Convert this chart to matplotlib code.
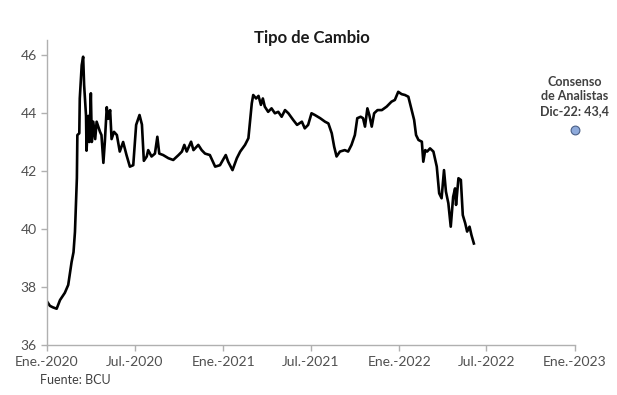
import numpy as np
import pandas as pd
from matplotlib import pyplot as plt

plt.rcParams['font.family'] = ['Lato', 'DejaVu Sans']

# tipo de cambio
fechas = ['2020-01-01', '2020-01-07', '2020-01-13', '2020-01-21', '2020-01-28', '2020-02-07',
          '2020-02-14', '2020-02-21', '2020-02-25', '2020-02-28', '2020-03-03', '2020-03-04',
          '2020-03-08', '2020-03-09', '2020-03-13', '2020-03-16', '2020-03-18', '2020-03-22',
          '2020-03-23', '2020-03-27', '2020-03-29', '2020-04-01', '2020-04-03', '2020-04-06',
          '2020-04-10', '2020-04-13', '2020-04-20', '2020-04-23', '2020-04-27', '2020-04-30',
          '2020-05-04', '2020-05-07', '2020-05-11', '2020-05-14', '2020-05-19', '2020-05-25',
          '2020-05-31', '2020-06-07', '2020-06-14', '2020-06-21', '2020-06-28', '2020-07-04',
          '2020-07-11', '2020-07-16', '2020-07-20', '2020-07-26', '2020-07-29', '2020-08-05',
          '2020-08-12', '2020-08-17', '2020-08-21', '2020-08-29', '2020-09-09', '2020-09-19',
          '2020-09-30', '2020-10-07', '2020-10-12', '2020-10-17', '2020-10-26', '2020-10-31',
          '2020-11-10', '2020-11-17', '2020-11-24', '2020-12-04', '2020-12-15', '2020-12-25',
          '2021-01-06', '2021-01-11', '2021-01-20', '2021-01-29', '2021-02-05', '2021-02-15',
          '2021-02-22', '2021-02-25', '2021-03-01', '2021-03-04', '2021-03-10', '2021-03-15',
          '2021-03-20', '2021-03-24', '2021-03-28', '2021-04-04', '2021-04-11', '2021-04-18',
          '2021-04-25', '2021-05-02', '2021-05-09', '2021-05-16', '2021-05-26', '2021-06-03',
          '2021-06-13', '2021-06-19', '2021-06-26', '2021-07-03', '2021-07-10', '2021-07-21',
          '2021-07-31', '2021-08-07', '2021-08-14', '2021-08-19', '2021-08-24', '2021-08-31',
          '2021-09-10', '2021-09-17', '2021-09-24', '2021-10-01', '2021-10-06', '2021-10-13',
          '2021-10-18', '2021-10-22', '2021-10-27', '2021-10-31', '2021-11-05', '2021-11-10',
          '2021-11-17', '2021-11-26', '2021-12-06', '2021-12-16', '2021-12-23', '2021-12-30',
          '2022-01-06', '2022-01-13', '2022-01-20', '2022-01-27', '2022-02-01', '2022-02-05',
          '2022-02-10', '2022-02-17', '2022-02-20', '2022-02-24', '2022-02-28', '2022-03-06',
          '2022-03-13', '2022-03-20', '2022-03-25', '2022-03-30', '2022-04-04', '2022-04-08',
          '2022-04-13', '2022-04-18', '2022-04-23', '2022-04-27', '2022-04-29', '2022-05-04',
          '2022-05-09', '2022-05-13', '2022-05-18', '2022-05-22', '2022-05-27', '2022-05-31',
          '2022-06-05']
valores = [37.5, 37.35, 37.3, 37.25, 37.55, 37.8,
           38.07, 38.86, 39.2, 39.9, 41.76, 43.24,
           43.3, 44.5, 45.65, 45.94, 44.97, 43.9,
           42.7, 43.9, 43.0, 44.68, 43.0, 43.7,
           43.1, 43.7, 43.35, 43.24, 42.28, 43.0,
           44.2, 43.8, 44.1, 43.1, 43.35, 43.24,
           42.67, 43.0, 42.55, 42.15, 42.2, 43.59,
           43.93, 43.6, 42.35, 42.5, 42.72, 42.5,
           42.6, 43.18, 42.6, 42.55, 42.44, 42.38,
           42.55, 42.67, 42.9, 42.67, 43.01, 42.72,
           42.9, 42.72, 42.6, 42.55, 42.15, 42.2,
           42.55, 42.32, 42.03, 42.44, 42.67, 42.9,
           43.13, 43.64, 44.33, 44.62, 44.5, 44.59,
           44.28, 44.5, 44.22, 44.04, 44.16, 43.99,
           44.04, 43.87, 44.1, 43.99, 43.76, 43.59,
           43.7, 43.47, 43.59, 43.99, 43.93, 43.82,
           43.7, 43.64, 43.3, 42.84, 42.5, 42.67,
           42.72, 42.67, 42.9, 43.24, 43.82, 43.87,
           43.82, 43.53, 44.16, 43.93, 43.53, 43.99,
           44.1, 44.1, 44.22, 44.39, 44.45, 44.73,
           44.65, 44.62, 44.56, 44.1, 43.76, 43.24,
           43.07, 43.01, 42.32, 42.72, 42.67, 42.78,
           42.67, 42.15, 41.23, 41.06, 42.03, 41.29,
           40.89, 40.08, 41.11, 41.4, 40.83, 41.75,
           41.69, 40.48, 40.2, 39.91, 40.08, 39.79,
           39.5]

consenso_fecha = '2022-12-31'
consenso_valor = 43.4

xticks = ['2020-01-01', '2020-07-01', '2021-01-01', '2021-07-01', '2022-01-01', '2022-07-01', '2023-01-01']
xlabels = ['Ene.-2020', 'Jul.-2020', 'Ene.-2021', 'Jul.-2021', 'Ene.-2022', 'Jul.-2022', 'Ene.-2023']
yticks = [36, 38, 40, 42, 44, 46]

fig = plt.figure(figsize=(6.17, 3.95), dpi=100)
ax = fig.add_axes([0.0762, 0.1266, 0.8558, 0.7709])

ax.plot(pd.to_datetime(fechas), valores, color='black', lw=1.9, solid_joinstyle='round')
ax.scatter(pd.to_datetime([consenso_fecha]), [consenso_valor], s=40, color='#8eaadb',
           edgecolors='#4a5f86', linewidths=0.8, zorder=3, clip_on=False)
ax.text(pd.to_datetime(consenso_fecha), 44.58, 'Consenso\nde Analistas\nDic-22: 43,4',
        ha='center', va='center', fontsize=9, fontweight='bold', color='#404040', linespacing=1.25)

ax.set_xlim(pd.to_datetime('2020-01-01'), pd.to_datetime('2023-01-01'))
ax.set_ylim(36, 46.5)
ax.set_xticks(pd.to_datetime(xticks))
ax.set_xticklabels(xlabels)
ax.set_yticks(yticks)

for s in ['top', 'right']:
    ax.spines[s].set_visible(False)
for s in ['left', 'bottom']:
    ax.spines[s].set_color('#b0b0b0')
    ax.spines[s].set_linewidth(1.0)
ax.tick_params(axis='both', colors='#b0b0b0', labelcolor='#505050', labelsize=10, length=4, width=1)
ax.tick_params(axis='x', pad=4)

fig.text(0.506, 0.904, 'Tipo de Cambio', ha='center', va='center', fontsize=12,
         fontweight='bold', color='#1a1a1a')
fig.text(0.065, 0.028, 'Fuente: BCU', fontsize=9, color='#404040')

fig.savefig('out.png', dpi=100)
